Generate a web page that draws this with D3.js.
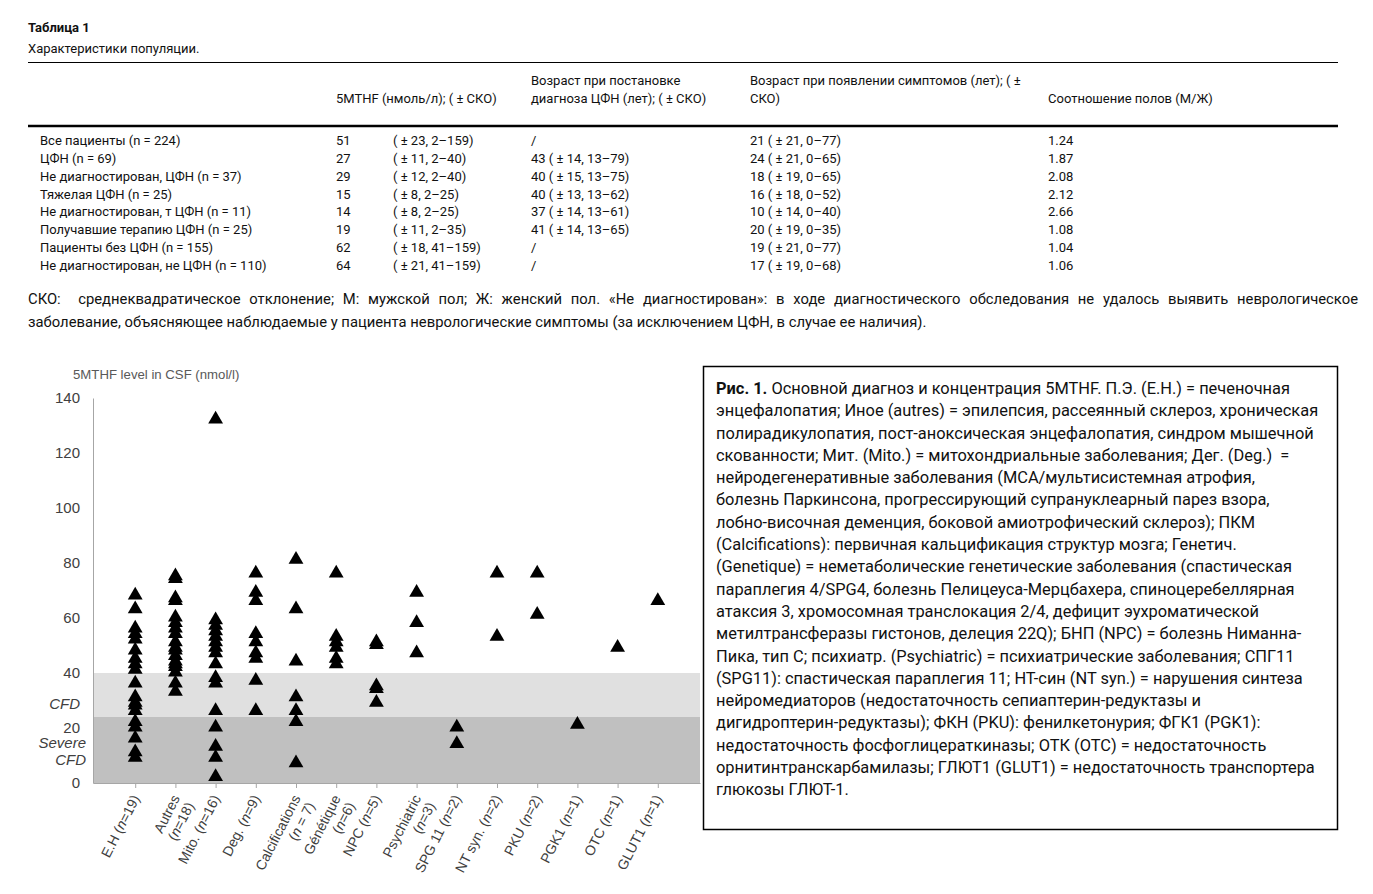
<!DOCTYPE html>
<html>
<head>
<meta charset="utf-8">
<script src="https://cdn.jsdelivr.net/npm/d3@7"></script>
<style>
  body { margin: 0; background: #fff; }
  #page { position: relative; width: 1373px; height: 894px; overflow: hidden; }
  svg { position: absolute; left: 0; top: 0; }
  .note { position: absolute; left: 28px; top: 288px; width: 1330px; font: 14.8px Roboto, sans-serif; line-height: 23px; color: #111; }
  .note .l1 { text-align: justify; text-align-last: justify; white-space: nowrap; }
  .caption { position: absolute; left: 716px; top: 378px; font: 16.4px Roboto, sans-serif; line-height: 22.3px; color: #111; white-space: nowrap; }
</style>
</head>
<body>
<div id="page">
  <svg id="canvas" width="1373" height="894"></svg>
  <div class="note">
    <div class="l1">СКО: &nbsp;среднеквадратическое отклонение; М: мужской пол; Ж: женский пол. «Не диагностирован»: в ходе диагностического обследования не удалось выявить неврологическое</div>
    <div>заболевание, объясняющее наблюдаемые у пациента неврологические симптомы (за исключением ЦФН, в случае ее наличия).</div>
  </div>
  <div class="caption" id="caption"></div>
</div>
<script>
// table 1
const rowLabels = [
  "Все пациенты (n = 224)",
  "ЦФН (n = 69)",
  "Не диагностирован, ЦФН (n = 37)",
  "Тяжелая ЦФН (n = 25)",
  "Не диагностирован, т ЦФН (n = 11)",
  "Получавшие терапию ЦФН (n = 25)",
  "Пациенты без ЦФН (n = 155)",
  "Не диагностирован, не ЦФН (n = 110)"
];
const mthfMean = [51, 27, 29, 15, 14, 19, 62, 64];
const mthfSd = ["( ± 23, 2–159)", "( ± 11, 2–40)", "( ± 12, 2–40)", "( ± 8, 2–25)",
  "( ± 8, 2–25)", "( ± 11, 2–35)", "( ± 18, 41–159)", "( ± 21, 41–159)"];
const ageDiag = ["/", "43 ( ± 14, 13–79)", "40 ( ± 15, 13–75)", "40 ( ± 13, 13–62)",
  "37 ( ± 14, 13–61)", "41 ( ± 14, 13–65)", "/", "/"];
const ageSymp = ["21 ( ± 21, 0–77)", "24 ( ± 21, 0–65)", "18 ( ± 19, 0–65)", "16 ( ± 18, 0–52)",
  "10 ( ± 14, 0–40)", "20 ( ± 19, 0–35)", "19 ( ± 21, 0–77)", "17 ( ± 19, 0–68)"];
const sexRatio = ["1.24", "1.87", "2.08", "2.12", "2.66", "1.08", "1.04", "1.06"];

// figure 1: 5MTHF per diagnosis
const catKeys = ["E.H", "Autres", "Mito.", "Deg.", "Calcifications", "Génétique", "NPC",
  "Psychiatric", "SPG 11", "NT syn.", "PKU", "PGK1", "OTC", "GLUT1"];
const catLabels = [
  ["E.H (n=19)"], ["Autres", "(n=18)"], ["Mito. (n=16)"], ["Deg. (n=9)"],
  ["Calcifications", "(n = 7)"], ["Génétique", "(n=6)"], ["NPC (n=5)"],
  ["Psychiatric", "(n=3)"], ["SPG 11 (n=2)"], ["NT syn. (n=2)"], ["PKU (n=2)"],
  ["PGK1 (n=1)"], ["OTC (n=1)"], ["GLUT1 (n=1)"]
];
const ehValues = [69, 64, 57, 55, 53, 49, 46, 44, 42, 37, 32, 30, 29, 27, 23, 21, 17, 12, 10];
const autresValues = [76, 75, 68, 67, 61, 59, 57, 55, 52, 50, 49, 47, 45, 44, 43, 41, 37, 34];
const mitoValues = [133, 60, 58, 56, 54, 52, 50, 48, 44, 39, 37, 27, 21, 14, 10, 3];
const degValues = [77, 70, 67, 55, 52, 48, 46, 38, 27];
const calcValues = [82, 64, 45, 32, 27, 23, 8];
const genetiqueValues = [77, 54, 52, 50, 46, 44];
const npcValues = [52, 51, 36, 35, 30];
const psychValues = [70, 59, 48];
const spg11Values = [21, 15];
const ntSynValues = [77, 54];
const pkuValues = [77, 62];
const pgk1Values = [22];
const otcValues = [50];
const glut1Values = [67];
const allValues = [ehValues, autresValues, mitoValues, degValues, calcValues, genetiqueValues,
  npcValues, psychValues, spg11Values, ntSynValues, pkuValues, pgk1Values, otcValues, glut1Values];
const yTicks = [0, 20, 40, 60, 80, 100, 120, 140];
const severeCfd = [0, 24];
const cfd = [24, 40];

const captionLines = [
  "Основной диагноз и концентрация 5MTHF. П.Э. (E.H.) = печеночная",
  "энцефалопатия; Иное (autres) = эпилепсия, рассеянный склероз, хроническая",
  "полирадикулопатия, пост-аноксическая энцефалопатия, синдром мышечной",
  "скованности; Мит. (Mito.) = митохондриальные заболевания; Дег. (Deg.) &nbsp;=",
  "нейродегенеративные заболевания (МСА/мультисистемная атрофия,",
  "болезнь Паркинсона, прогрессирующий супрануклеарный парез взора,",
  "лобно-височная деменция, боковой амиотрофический склероз); ПКМ",
  "(Calcifications): первичная кальцификация структур мозга; Генетич.",
  "(Genetique) = неметаболические генетические заболевания (спастическая",
  "параплегия 4/SPG4, болезнь Пелицеуса-Мерцбахера, спиноцеребеллярная",
  "атаксия 3, хромосомная транслокация 2/4, дефицит эухроматической",
  "метилтрансферазы гистонов, делеция 22Q); БНП (NPC) = болезнь Ниманна-",
  "Пика, тип С; психиатр. (Psychiatric) = психиатрические заболевания; СПГ11",
  "(SPG11): спастическая параплегия 11; НТ-син (NT syn.) = нарушения синтеза",
  "нейромедиаторов (недостаточность сепиаптерин-редуктазы и",
  "дигидроптерин-редуктазы); ФКН (PKU): фенилкетонурия; ФГК1 (PGK1):",
  "недостаточность фосфоглицераткиназы; ОТК (OTC) = недостаточность",
  "орнитинтранскарбамилазы; ГЛЮТ1 (GLUT1) = недостаточность транспортера",
  "глюкозы ГЛЮТ-1."
];

let canvas = d3.select("#canvas");

const drawTable = () => {
  const t = canvas.append("g")
    .attr("font-family", "Roboto, sans-serif")
    .attr("font-size", 13)
    .attr("fill", "#111");

  t.append("text").attr("x", 28).attr("y", 32)
    .attr("font-weight", "bold").text("Таблица 1");
  t.append("text").attr("x", 28).attr("y", 53)
    .text("Характеристики популяции.");

  t.append("line").attr("x1", 28).attr("x2", 1338).attr("y1", 62.5).attr("y2", 62.5)
    .attr("stroke", "#000").attr("stroke-width", 1);
  t.append("line").attr("x1", 28).attr("x2", 1338).attr("y1", 126).attr("y2", 126)
    .attr("stroke", "#000").attr("stroke-width", 2.5);

  const header = [
    { x: 336, y: 103, s: "5MTHF (нмоль/л); ( ± СКО)" },
    { x: 531, y: 85, s: "Возраст при постановке" },
    { x: 531, y: 103, s: "диагноза ЦФН (лет); ( ± СКО)" },
    { x: 750, y: 85, s: "Возраст при появлении симптомов (лет); ( ±" },
    { x: 750, y: 103, s: "СКО)" },
    { x: 1048, y: 103, s: "Соотношение полов (М/Ж)" }
  ];
  t.selectAll("text.head")
    .data(header)
    .enter()
    .append("text")
    .attr("class", "head")
    .attr("x", (d) => d.x)
    .attr("y", (d) => d.y)
    .text((d) => d.s);

  const rowY = d3.scaleLinear().domain([0, 7]).range([145, 270]);
  const columns = [
    { x: 40, v: rowLabels },
    { x: 336, v: mthfMean },
    { x: 393, v: mthfSd },
    { x: 531, v: ageDiag },
    { x: 750, v: ageSymp },
    { x: 1048, v: sexRatio }
  ];
  columns.forEach((col) => {
    t.selectAll(null)
      .data(col.v)
      .enter()
      .append("text")
      .attr("x", col.x)
      .attr("y", (d, i) => rowY(i))
      .text((d) => d);
  });
};

const drawChart = () => {
  const y = d3.scaleLinear().domain([0, 140]).range([783, 398]);
  const x = d3.scalePoint().domain(catKeys).range([93, 700]).padding(1.05);
  const left = 93, right = 700;

  const g = canvas.append("g").attr("font-family", "'Liberation Sans', Arial, sans-serif");

  // reference bands
  g.append("rect").attr("x", left).attr("width", right - left)
    .attr("y", y(cfd[1])).attr("height", y(cfd[0]) - y(cfd[1]))
    .attr("fill", "#e0e0e0");
  g.append("rect").attr("x", left).attr("width", right - left)
    .attr("y", y(severeCfd[1])).attr("height", y(severeCfd[0]) - y(severeCfd[1]))
    .attr("fill", "#c0c0c0");

  // y axis
  const yAxis = g.append("g")
    .attr("transform", `translate(${left},0)`)
    .call(d3.axisLeft(y).tickValues(yTicks).tickSize(0).tickSizeOuter(0).tickPadding(13));
  yAxis.select(".domain").attr("stroke", "#a6a6a6");
  yAxis.selectAll("text").attr("font-size", 15).attr("fill", "#404040");

  // x axis
  const xAxis = g.append("g")
    .attr("transform", `translate(0,${y(0)})`)
    .call(d3.axisBottom(x).tickSize(5).tickSizeOuter(0).tickFormat(""));
  xAxis.select(".domain").attr("stroke", "#a6a6a6");
  xAxis.selectAll(".tick line").attr("stroke", "#a6a6a6");

  g.append("text").attr("x", 73).attr("y", 376).attr("dominant-baseline", "middle")
    .attr("font-size", 13.2).attr("fill", "#595959")
    .text("5MTHF level in CSF (nmol/l)");

  const bandLabels = [
    { s: "CFD", x: 80, y: 705 },
    { s: "Severe", x: 86, y: 744 },
    { s: "CFD", x: 86, y: 761 }
  ];
  g.selectAll("text.band")
    .data(bandLabels)
    .enter()
    .append("text")
    .attr("class", "band")
    .attr("x", (d) => d.x)
    .attr("y", (d) => d.y)
    .attr("text-anchor", "end")
    .attr("dominant-baseline", "middle")
    .attr("font-size", 15)
    .attr("font-style", "italic")
    .attr("fill", "#404040")
    .text((d) => d.s);

  // category labels
  const lab = g.selectAll("g.lab")
    .data(catKeys)
    .enter()
    .append("g")
    .attr("class", "lab")
    .attr("transform", (d) => `translate(${x(d)},790) rotate(-63)`);
  lab.each(function (d, i) {
    const node = d3.select(this);
    catLabels[i].forEach((line, j) => {
      const txt = node.append("text")
        .attr("x", -5)
        .attr("y", 8 + j * 16)
        .attr("text-anchor", "end")
        .attr("font-size", 14)
        .attr("fill", "#404040");
      const parts = line.split(/(?<=\()n/);
      if (parts.length === 2) {
        txt.append("tspan").text(parts[0]);
        txt.append("tspan").attr("font-style", "italic").text("n");
        txt.append("tspan").text(parts[1]);
      } else {
        txt.text(line);
      }
    });
  });

  // points
  const points = [];
  allValues.forEach((vals, i) => {
    vals.forEach((v) => points.push({ cat: catKeys[i], value: v }));
  });
  const tri = d3.symbol(d3.symbolTriangle, 95);
  g.selectAll("path.pt")
    .data(points)
    .enter()
    .append("path")
    .attr("class", "pt")
    .attr("d", tri)
    .attr("transform", (d) => `translate(${x(d.cat)},${y(d.value) + 2})`)
    .attr("fill", "#000");
};

const drawCaption = () => {
  canvas.append("rect")
    .attr("x", 703.5).attr("y", 366.5)
    .attr("width", 634).attr("height", 463)
    .attr("fill", "none").attr("stroke", "#000").attr("stroke-width", 1.5);

  const cap = d3.select("#caption");
  cap.selectAll("div")
    .data(captionLines)
    .enter()
    .append("div")
    .html((d, i) => (i === 0 ? "<b>Рис. 1.</b> " : "") + d);
};

drawTable();
drawChart();
drawCaption();
</script>
</body>
</html>
